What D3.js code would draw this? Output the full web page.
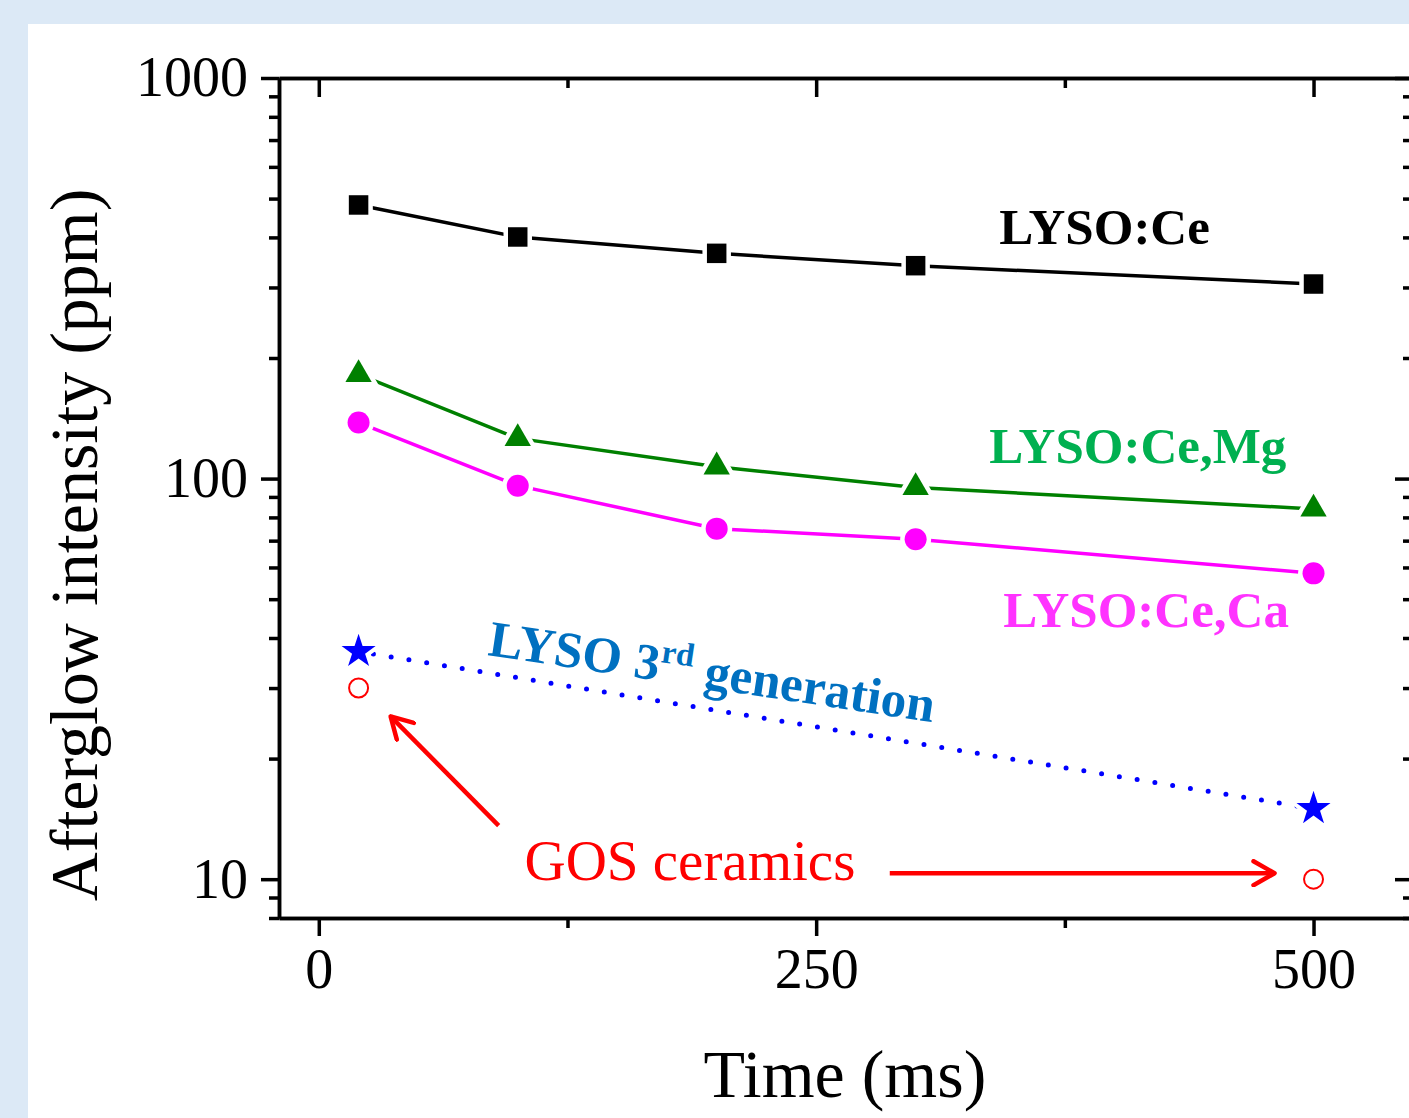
<!DOCTYPE html>
<html>
<head>
<meta charset="utf-8">
<script src="https://cdn.jsdelivr.net/npm/d3@7"></script>
<style>
	body { margin: 0; background: #dce9f6; }
	svg { display: block; }
	.axis path, .axis line { stroke: #000; stroke-width: 3.5; }
	.axis text { font-family: "Liberation Serif", serif; font-size: 56px; fill: #000; }
</style>
</head>
<body>
<svg id="chart" width="1409" height="1118"></svg>
<script>
// ------------------------------ data ------------------------------
var times = [20, 100, 200, 300, 500];
var lysoCe = [482, 401, 365, 340, 306];
var lysoCeMg = [182, 126, 107, 95, 84];
var lysoCeCa = [138, 96, 75, 70.6, 58];
var lyso3rdTimes = [20, 500];
var lyso3rd = [37, 15];
var gosTimes = [20, 500];
var gos = [30, 10];

var xMajorTicks = [0, 250, 500];
var xMinorTicks = [125, 375];
var yMajorTicks = [10, 100, 1000];
var yMinorTicks = [8, 9, 20, 30, 40, 50, 60, 70, 80, 90, 200, 300, 400, 500, 600, 700, 800, 900];

// ------------------------------ setup ------------------------------
var svg = d3.select("#chart");
var margin = {top: 78, left: 279, right: 1413, bottom: 918};

svg.append("rect")
	.attr("x", 28).attr("y", 24)
	.attr("width", 1409 - 28).attr("height", 1118 - 24)
	.attr("fill", "#fff");

var x = d3.scaleLinear().domain([-20, 550]).range([margin.left, margin.right]);
var y = d3.scaleLog().domain([8, 1000]).range([margin.bottom, margin.top]);

// ------------------------------ axes ------------------------------
function drawAxis(axis, tx, ty){
	var g = svg.append("g")
		.attr("class", "axis")
		.attr("transform", "translate(" + tx + "," + ty + ")")
		.call(axis);
	return g;
}

// left
drawAxis(d3.axisLeft(y).tickValues(yMajorTicks).tickSize(18).tickSizeOuter(0).tickPadding(13).tickFormat(d3.format("d")), margin.left, 0);
drawAxis(d3.axisLeft(y).tickValues(yMinorTicks).tickSize(10).tickSizeOuter(0).tickFormat(""), margin.left, 0);
// right (inward)
drawAxis(d3.axisLeft(y).tickValues(yMajorTicks).tickSize(18).tickSizeOuter(0).tickFormat(""), margin.right, 0);
drawAxis(d3.axisLeft(y).tickValues(yMinorTicks).tickSize(10).tickSizeOuter(0).tickFormat(""), margin.right, 0);
// bottom
drawAxis(d3.axisBottom(x).tickValues(xMajorTicks).tickSize(18).tickSizeOuter(0).tickPadding(12).tickFormat(d3.format("d")), 0, margin.bottom);
drawAxis(d3.axisBottom(x).tickValues(xMinorTicks).tickSize(10).tickSizeOuter(0).tickFormat(""), 0, margin.bottom);
// top (inward)
drawAxis(d3.axisBottom(x).tickValues(xMajorTicks).tickSize(19).tickSizeOuter(0).tickFormat(""), 0, margin.top);
drawAxis(d3.axisBottom(x).tickValues(xMinorTicks).tickSize(10).tickSizeOuter(0).tickFormat(""), 0, margin.top);

svg.selectAll(".axis line").attr("stroke-width", 3);

// titles
svg.append("text")
	.attr("x", 845).attr("y", 1097)
	.attr("text-anchor", "middle")
	.attr("font-family", "Liberation Serif, serif")
	.attr("font-size", 68)
	.text("Time (ms)");

svg.append("text")
	.attr("transform", "translate(97,545) rotate(-90)")
	.attr("text-anchor", "middle")
	.attr("font-family", "Liberation Serif, serif")
	.attr("font-size", 68)
	.text("Afterglow intensity (ppm)");

// ------------------------------ series ------------------------------
var line = d3.line()
	.x(function(d) { return x(d[0]); })
	.y(function(d) { return y(d[1]); });

var series = [
	{values: lysoCe, times: times, color: "#000", symbol: d3.symbolSquare, size: 380},
	{values: lysoCeMg, times: times, color: "#008000", symbol: d3.symbolTriangle, size: 300},
	{values: lysoCeCa, times: times, color: "#ff00ff", symbol: d3.symbolCircle, size: 380}
];

series.forEach(function(s){
	var pts = d3.zip(s.times, s.values);
	svg.append("path")
		.datum(pts)
		.attr("fill", "none")
		.attr("stroke", s.color)
		.attr("stroke-width", 3.5)
		.attr("d", line);
	svg.selectAll(null)
		.data(pts)
		.enter().append("path")
		.attr("transform", function(d) { return "translate(" + x(d[0]) + "," + y(d[1]) + ")"; })
		.attr("d", d3.symbol().type(s.symbol).size(s.size))
		.attr("fill", s.color)
		.attr("stroke", "#fff")
		.attr("stroke-width", 9)
		.style("paint-order", "stroke");
});

// LYSO 3rd generation, dotted
var pts3 = d3.zip(lyso3rdTimes, lyso3rd);
svg.append("path")
	.datum(pts3)
	.attr("fill", "none")
	.attr("stroke", "#0000ff")
	.attr("stroke-width", 5)
	.attr("stroke-linecap", "round")
	.attr("stroke-dasharray", "0,18")
	.attr("stroke-dashoffset", -33)
	.attr("d", line);
svg.selectAll(null)
	.data(pts3)
	.enter().append("path")
	.attr("transform", function(d) { return "translate(" + x(d[0]) + "," + y(d[1]) + ")"; })
	.attr("d", d3.symbol().type(d3.symbolStar).size(360))
	.attr("fill", "#0000ff")
	.attr("stroke", "#fff")
	.attr("stroke-width", 8)
	.style("paint-order", "stroke");

// GOS ceramics, open circles
svg.selectAll(null)
	.data(d3.zip(gosTimes, gos))
	.enter().append("circle")
	.attr("cx", function(d) { return x(d[0]); })
	.attr("cy", function(d) { return y(d[1]); })
	.attr("r", 9.5)
	.attr("fill", "none")
	.attr("stroke", "#ff0000")
	.attr("stroke-width", 2);

// ------------------------------ annotations ------------------------------
function label(txt, t, v, color){
	svg.append("text")
		.attr("x", x(t)).attr("y", y(v))
		.attr("font-family", "Liberation Serif, serif")
		.attr("font-weight", "bold")
		.attr("font-size", 51)
		.attr("fill", color)
		.text(txt);
}
label("LYSO:Ce", 342, 385, "#000");
label("LYSO:Ce,Mg", 337, 109.3, "#00b050");
label("LYSO:Ce,Ca", 344, 42.6, "#ff33ff");

// rotated label
var gen = svg.append("text")
	.attr("transform", "translate(" + x(84.5) + "," + y(36.3) + ") rotate(8.6)")
	.attr("font-family", "Liberation Serif, serif")
	.attr("font-weight", "bold")
	.attr("font-size", 51)
	.attr("fill", "#0070c0");
gen.append("tspan").text("LYSO 3");
gen.append("tspan").attr("dy", -19).attr("font-size", 33).text("rd");
gen.append("tspan").attr("dy", 19).text(" generation");

svg.append("text")
	.attr("x", x(103.4)).attr("y", y(9.95))
	.attr("font-family", "Liberation Serif, serif")
	.attr("font-size", 57)
	.attr("fill", "#ff0000")
	.text("GOS ceramics");

svg.append("defs").append("marker")
	.attr("id", "chev")
	.attr("markerUnits", "userSpaceOnUse")
	.attr("viewBox", "-26 -14 30 28")
	.attr("refX", 0).attr("refY", 0)
	.attr("markerWidth", 30).attr("markerHeight", 28)
	.attr("orient", "auto")
	.append("path")
	.attr("d", "M-21,-12 L0,0 L-21,12")
	.attr("fill", "none")
	.attr("stroke", "#ff0000")
	.attr("stroke-width", 4.5)
	.attr("stroke-linecap", "round")
	.attr("stroke-linejoin", "round");

var arrows = [
	[[90.4, 13.6], [36.1, 25.5]],
	[[287, 10.35], [480.4, 10.35]]
];
arrows.forEach(function(a){
	svg.append("line")
		.attr("x1", x(a[0][0])).attr("y1", y(a[0][1]))
		.attr("x2", x(a[1][0])).attr("y2", y(a[1][1]))
		.attr("stroke", "#ff0000")
		.attr("stroke-width", 4.5)
		.attr("marker-end", "url(#chev)");
});
</script>
</body>
</html>
